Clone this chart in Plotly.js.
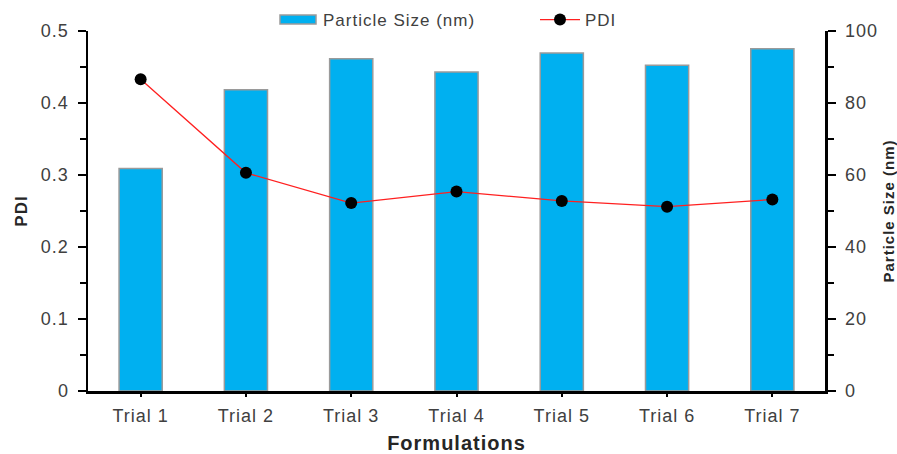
<!DOCTYPE html>
<html>
<head>
<meta charset="utf-8">
<script src="https://cdn.plot.ly/plotly-3.0.1.min.js"></script>
<style>
html,body{margin:0;padding:0;background:#fff}
#chart{width:897px;height:454px}
text{letter-spacing:1px}
</style>
</head>
<body>
<div id="chart"></div>
<script>
const categories = ["Trial 1","Trial 2","Trial 3","Trial 4","Trial 5","Trial 6","Trial 7"];
const particleSize = [61.8, 83.7, 92.3, 88.6, 93.9, 90.5, 95.1];
const pdi = [0.433, 0.303, 0.261, 0.277, 0.264, 0.256, 0.266];
const leftTicks = [0, 0.1, 0.2, 0.3, 0.4, 0.5];
const leftTickText = ["0", "0.1", "0.2", "0.3", "0.4", "0.5"];
const rightTicks = [0, 20, 40, 60, 80, 100];

const FAM = "Liberation Sans, Arial, sans-serif";
const tickFont = {family: FAM, size: 18, color: "#404040"};
const titleColor = "#262626";

const traces = [
  {
    type: "bar", name: "Particle Size (nm)", x: categories, y: particleSize,
    yaxis: "y", marker: {color: "#00B0F0", line: {color: "#9a9a9a", width: 1.5}}
  },
  {
    type: "scatter", mode: "lines+markers", name: "PDI", x: categories, y: pdi,
    yaxis: "y2", line: {color: "#FF2020", width: 1.3},
    marker: {color: "#000000", size: 12}
  }
];

const layout = {
  width: 897, height: 454,
  margin: {l: 88, r: 72, t: 31, b: 63},
  paper_bgcolor: "#fff", plot_bgcolor: "#fff",
  font: tickFont,
  bargap: 0.59,
  showlegend: true,
  legend: {orientation: "h", x: 0.5, xanchor: "center",
    y: 1, yanchor: "top",
    font: {family: FAM, size: 17, color: "#404040"}, bgcolor: "rgba(0,0,0,0)", itemwidth: 40},
  xaxis: {
    type: "category", showgrid: false, zeroline: false,
    showline: true, linecolor: "#000", linewidth: 2.5,
    ticks: "outside", ticklen: 3, tickwidth: 2, tickcolor: "#000",
    tickfont: tickFont, ticklabelstandoff: 4,
    title: {text: "Formulations", font: {family: FAM, size: 20, color: titleColor, weight: "bold"}, standoff: 14}
  },
  yaxis: {
    side: "right", range: [0, 100], tickvals: rightTicks, showgrid: false, zeroline: false,
    showline: true, linecolor: "#000", linewidth: 2.5,
    ticks: "outside", ticklen: 8, tickwidth: 2, tickcolor: "#000",
    minor: {ticks: "outside", dtick: 10, ticklen: 6, tickwidth: 2, tickcolor: "#000"},
    tickfont: tickFont, ticklabelstandoff: 6,
    title: {text: "Particle Size (nm)", font: {family: FAM, size: 15, color: titleColor, weight: "bold"}, standoff: 7}
  },
  yaxis2: {
    overlaying: "y", side: "left", range: [0, 0.5], tickvals: leftTicks, ticktext: leftTickText,
    showgrid: false, zeroline: false,
    showline: true, linecolor: "#000", linewidth: 2.5,
    ticks: "outside", ticklen: 8, tickwidth: 2, tickcolor: "#000",
    minor: {ticks: "outside", dtick: 0.05, ticklen: 6, tickwidth: 2, tickcolor: "#000"},
    tickfont: tickFont, ticklabelstandoff: 5,
    title: {text: "PDI", font: {family: FAM, size: 17, color: titleColor, weight: "bold"}, standoff: 9}
  }
};

function shiftEl(el, dx, dy) {
  const t = el.getAttribute("transform") || "";
  const m = /translate\(\s*([-\d.e]+)[\s,]*([-\d.e]*)\s*\)/.exec(t);
  let x = 0, y = 0;
  if (m) { x = parseFloat(m[1]); y = parseFloat(m[2] || "0"); }
  el.setAttribute("transform", "translate(" + (x + dx) + "," + (y + dy) + ")");
}

// Legend sits above the plot area (centre ~20px from the top) like the reference.
function placeLegend(gd) {
  const leg = gd.querySelector("g.legend");
  if (!leg) return;
  const items = leg.querySelectorAll("g.traces");
  if (items[0]) {
    const p = items[0].querySelector("g.legendpoints path");
    if (p) p.setAttribute("d", "M18,4.5H-18V-4.5H18Z");
  }
  const bg = leg.querySelector("rect.bg") || leg;
  const r = bg.getBoundingClientRect();
  const dy = 20 - (r.top + r.height / 2);
  if (Math.abs(dy) > 0.5) shiftEl(leg, 0, dy);

  // horizontal spacing of the two entries
  const sb = leg.querySelector("g.scrollbox");
  if (sb) sb.removeAttribute("clip-path");
  const targetsX = [280, 540];
  items.forEach(function (g, i) {
    if (i > 1) return;
    let sym = null;
    if (i === 0) sym = g.querySelector("g.legendpoints path");
    else sym = g.querySelector("g.legendlines path") || g.querySelector("path.js-line");
    if (!sym) return;
    const rr = sym.getBoundingClientRect();
    if (!rr.width) return;
    const dx = targetsX[i] - rr.left;
    if (Math.abs(dx) > 0.5) shiftEl(g, dx, 0);
  });
}

Plotly.newPlot("chart", traces, layout, {displayModeBar: false, staticPlot: true}).then(function (gd) {
  placeLegend(gd);
  gd.on("plotly_afterplot", function () { placeLegend(gd); });
});
</script>
</body>
</html>
